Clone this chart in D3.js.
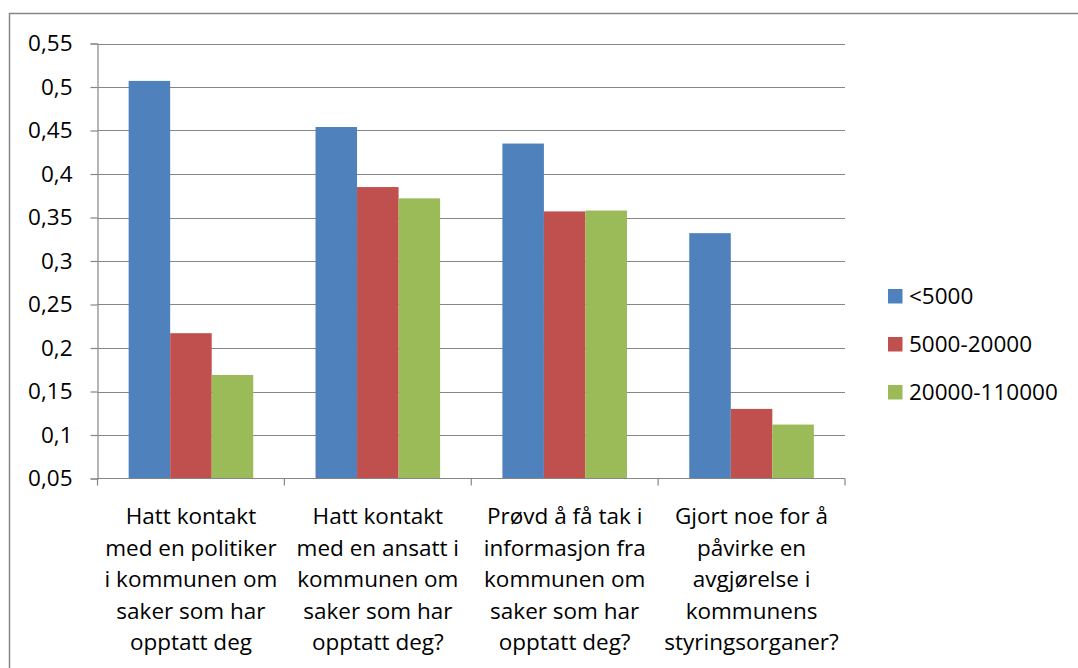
<!DOCTYPE html>
<html><head><meta charset="utf-8">
<script src="https://cdn.jsdelivr.net/npm/d3@7"></script>
<style>body{margin:0;background:#fff}svg{display:block}text{font-family:"Open Sans",Lato,sans-serif;fill:#000}</style>
</head><body>
<script>
const categories = [
  "Hatt kontakt\nmed en politiker\ni kommunen om\nsaker som har\nopptatt deg",
  "Hatt kontakt\nmed en ansatt i\nkommunen om\nsaker som har\nopptatt deg?",
  "Prøvd å få tak i\ninformasjon fra\nkommunen om\nsaker som har\nopptatt deg?",
  "Gjort noe for å\npåvirke en\navgjørelse i\nkommunens\nstyringsorganer?"
];
const seriesNames = ["<5000", "5000-20000", "20000-110000"];
const small = [0.507, 0.454, 0.435, 0.332];
const medium = [0.217, 0.385, 0.357, 0.130];
const large = [0.169, 0.372, 0.358, 0.112];
const yTicks = [0.05,0.1,0.15,0.2,0.25,0.3,0.35,0.4,0.45,0.5,0.55];
const colors = ["#4F81BD", "#C0504D", "#9BBB59"];

(function(){
const series = [small, medium, large];
const W = 1078, H = 668;
const FS = "22.5px";
const svg = d3.select("body").append("svg").attr("width", W).attr("height", H);
const gray = "#868686";

svg.append("rect").attr("x", 9.5).attr("y", 13.5).attr("width", 1080).attr("height", 670)
  .attr("fill", "none").attr("stroke", gray).attr("stroke-width", 1.5);

const pl = 97.5, pr = 845, pt = 43.5, pb = 478.5;
const y = d3.scaleLinear().domain([0.05, 0.55]).range([pb, pt]);
const x0 = d3.scaleBand().domain(d3.range(categories.length)).range([pl, pr]).paddingInner(0).paddingOuter(0);
const bw = x0.bandwidth() / (3 + 1.5);
const x1 = d3.scaleBand().domain(d3.range(3)).range([0.75 * bw, 0.75 * bw + 3 * bw]);

// gridlines
svg.append("g").selectAll("line").data(yTicks.slice(1)).join("line")
  .attr("x1", pl).attr("x2", pr)
  .attr("y1", d => Math.round(y(d)) + 0.5).attr("y2", d => Math.round(y(d)) + 0.5)
  .attr("stroke", gray).attr("stroke-width", 1.2);

// y axis
const yAxis = d3.axisLeft(y).tickValues(yTicks).tickSize(7).tickPadding(18)
  .tickFormat(d => d3.format(".2~f")(d).replace(".", ","));
const ga = svg.append("g").attr("transform", `translate(${pl},0)`).call(yAxis);
ga.attr("font-family", null).attr("font-size", null);
ga.select(".domain").attr("stroke", gray).attr("stroke-width", 1.2);
ga.selectAll(".tick line").attr("stroke", gray).attr("stroke-width", 1.2);
ga.selectAll(".tick text").style("font-size", FS).attr("fill", "#000");

// bars
const groups = svg.append("g").selectAll("g").data(categories).join("g")
  .attr("transform", (d, i) => `translate(${x0(i)},0)`);
groups.selectAll("rect").data((d, i) => series.map((s, k) => ({k, v: s[i]}))).join("rect")
  .attr("x", d => x1(d.k)).attr("width", x1.bandwidth())
  .attr("y", d => y(d.v)).attr("height", d => pb - y(d.v))
  .attr("fill", d => colors[d.k]);

// x axis
svg.append("line").attr("x1", pl).attr("x2", pr).attr("y1", pb).attr("y2", pb)
  .attr("stroke", gray).attr("stroke-width", 1.2);
const tickXs = d3.range(categories.length + 1).map(i => i < categories.length ? x0(i) : pr);
svg.append("g").selectAll("line").data(tickXs).join("line")
  .attr("x1", d => d).attr("x2", d => d).attr("y1", pb).attr("y2", pb + 7)
  .attr("stroke", gray).attr("stroke-width", 1.2);

// category labels
categories.forEach((c, i) => {
  const cx = x0(i) + x0.bandwidth() / 2;
  const t = svg.append("text").attr("text-anchor", "middle").style("font-size", FS).attr("x", cx);
  c.split("\n").forEach((ln, j) => {
    t.append("tspan").attr("x", cx).attr("y", 524 + j * 31.5).text(ln);
  });
});

// legend
const lg = svg.append("g").selectAll("g").data(seriesNames).join("g")
  .attr("transform", (d, i) => `translate(888,${289 + i * 48})`);
lg.append("rect").attr("width", 14.5).attr("height", 14.5).attr("fill", (d, i) => colors[i]);
lg.append("text").attr("x", 21).attr("y", 15).style("font-size", FS).text(d => d);
})();
</script>
</body></html>
